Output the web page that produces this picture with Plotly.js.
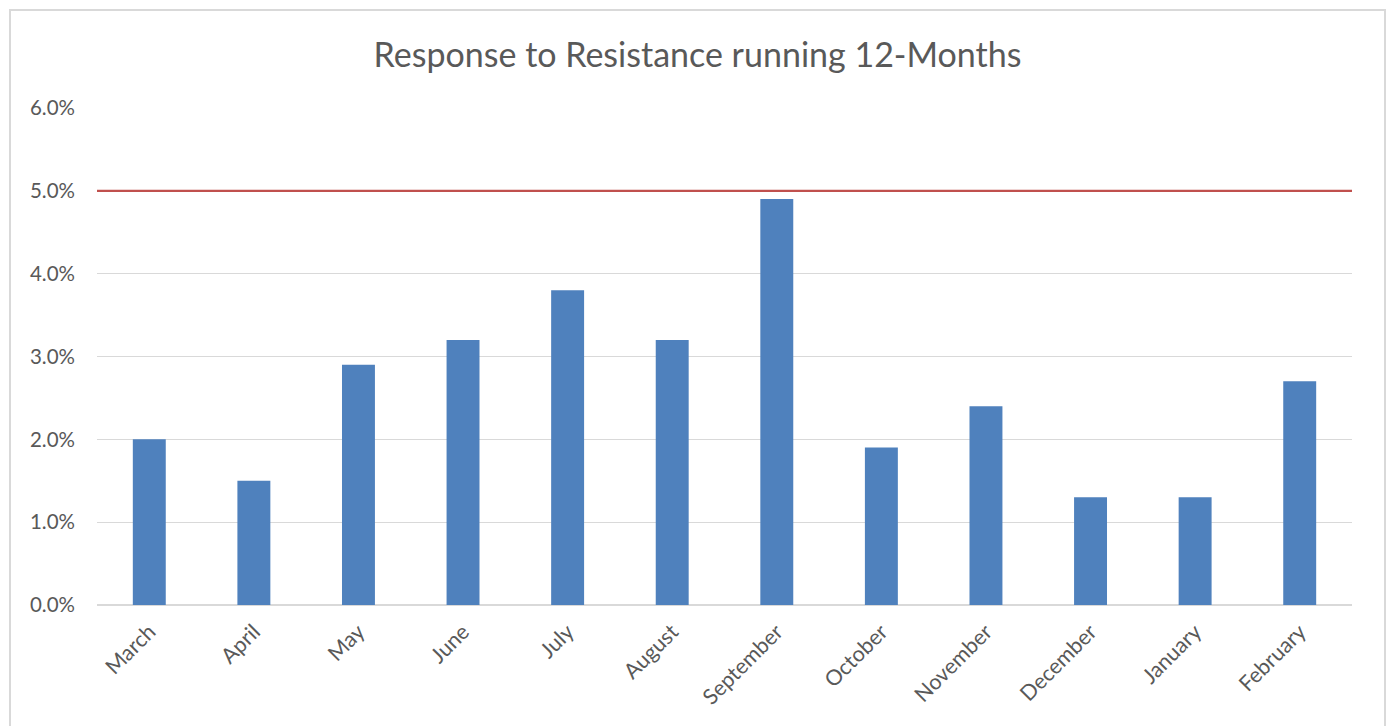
<!DOCTYPE html>
<html><head><meta charset="utf-8">
<script src="https://cdn.plot.ly/plotly-3.0.1.min.js"></script>
<style>
html,body{margin:0;padding:0;background:#fff;overflow:hidden;}
#frame{position:absolute;left:9px;top:9px;width:1373px;height:730px;border:2px solid #d9d9d9;border-bottom:none;}
#chart{width:1373px;height:717px;}
</style></head>
<body><div id="frame"><div id="chart"></div></div>
<script>
const months = ["March","April","May","June","July","August","September","October","November","December","January","February"];
const rates = [0.020,0.015,0.029,0.032,0.038,0.032,0.049,0.019,0.024,0.013,0.013,0.027];
const targetX = [0,1];
const targetY = [0.05,0.05];

const traces = [
  {type:'bar', x:months, y:rates, marker:{color:'#4f81bd'}, hoverinfo:'x+y'},
  {type:'scatter', mode:'lines', x:targetX, y:targetY, xaxis:'x2', line:{color:'#c0504d', width:2.2}}
];
const layout = {
  width:1373, height:717,
  margin:{l:86, r:32, t:97, b:123},
  showlegend:false,
  bargap:0.685,
  paper_bgcolor:'#fff', plot_bgcolor:'#fff',
  font:{family:'Lato, "Open Sans", sans-serif', color:'#595959'},
  title:{text:'Response to Resistance running 12-Months', font:{size:34, color:'#595959', family:'Lato, sans-serif'}, x:0.5, xanchor:'center', y:0.939, yanchor:'middle'},
  xaxis:{type:'category', tickangle:-45, tickfont:{size:21.5, color:'#595959'}, showgrid:false, zeroline:false, showline:false, ticks:'', ticklabelstandoff:9, fixedrange:true},
  xaxis2:{overlaying:'x', range:[0,1], visible:false, fixedrange:true},
  yaxis:{range:[0,0.06], dtick:0.01, tickformat:'.1%', tickfont:{size:20.5, color:'#595959'}, gridcolor:'#d9d9d9', gridwidth:1.3, zeroline:true, zerolinecolor:'#d9d9d9', zerolinewidth:1.5, showline:false, ticks:'', ticklabelstandoff:21, fixedrange:true, automargin:false}
};
Plotly.newPlot('chart', traces, layout, {displayModeBar:false, staticPlot:true});
</script></body></html>
